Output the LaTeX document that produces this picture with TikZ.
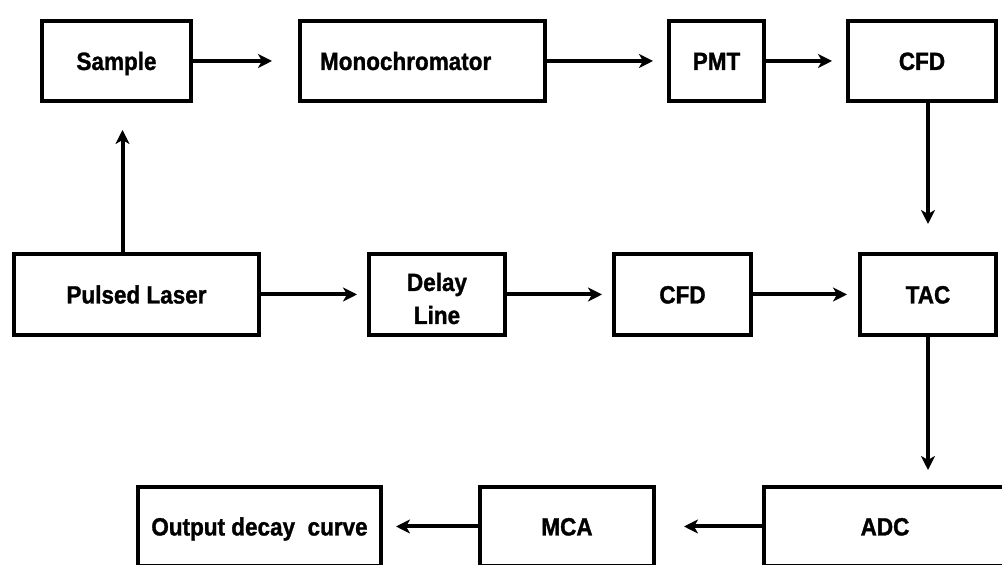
\documentclass[tikz,border=0pt]{standalone}
\usepackage{fontspec}
\setmainfont[FakeStretch=0.9,FakeBold=1.2]{Liberation Sans}
\usetikzlibrary{arrows.meta}

\begin{document}
\begin{tikzpicture}[x=0.5pt, y=-0.5pt,
  blok/.style={draw, line width=2pt, minimum height=40pt, inner sep=0pt,
    text height=9pt, text depth=0pt,
    font=\bfseries\fontsize{12.5}{16.5}\selectfont},
  arr/.style={line width=2pt, -{Stealth[length=7pt,width=7pt,inset=2pt]}}]
\useasboundingbox (0,0) rectangle (1002,565);
\clip (0,0) rectangle (1002,565);
% top row
\node[blok, minimum width=74.5pt] (sample) at (116.5,61) {Sample};
\node[blok, text width=102.5pt, inner xsep=10pt, align=left] (mono) at (422.5,61) {Monochromator};
\node[blok, minimum width=47.5pt] (pmt) at (716.5,61) {PMT};
\node[blok, minimum width=74pt] (cfdtop) at (922,61) {CFD};
% middle row
\node[blok, minimum width=122.5pt, minimum height=40.5pt] (laser) at (136.5,294.5) {Pulsed Laser};
\node[blok, minimum width=68pt, minimum height=40.5pt, text height=29.5pt,
  align=center] (delay) at (437,294.5) {Delay\\Line};
\node[blok, minimum width=68.5pt, minimum height=40.5pt] (cfdmid) at (682.5,294.5) {CFD};
\node[blok, minimum width=68pt, minimum height=40.5pt] (tac) at (928,294.5) {TAC};
% bottom row
\node[blok, minimum width=121.5pt, minimum height=39.5pt] (output) at (259.5,526.5) {Output decay\ \ curve};
\node[blok, minimum width=87pt, minimum height=39.5pt] (mca) at (567,526.5) {MCA};
\node[blok, minimum width=121pt, minimum height=39.5pt] (adc) at (885,526.5) {ADC};
% connectors
\coordinate (up) at ([xshift=3pt]sample.south);
\draw[arr, shorten >=13pt] (sample) -- (mono);
\draw[arr, shorten >=7pt] (mono) -- (pmt);
\draw[arr, shorten >=7pt] (pmt) -- (cfdtop);
\draw[arr, shorten >=14pt] (cfdtop.south -| tac) -- (tac.north);
\draw[arr, shorten >=13.5pt] (up |- laser.north) -- (up);
\draw[arr, shorten >=5pt] (laser) -- (delay);
\draw[arr, shorten >=5pt] (delay) -- (cfdmid);
\draw[arr, shorten >=5.5pt] (cfdmid) -- (tac);
\draw[arr, shorten >=7.5pt] (tac) -- (tac |- adc.north);
\draw[arr, shorten >=14pt] (adc) -- (mca);
\draw[arr, shorten >=6.5pt] (mca) -- (output);
\end{tikzpicture}
\end{document}
